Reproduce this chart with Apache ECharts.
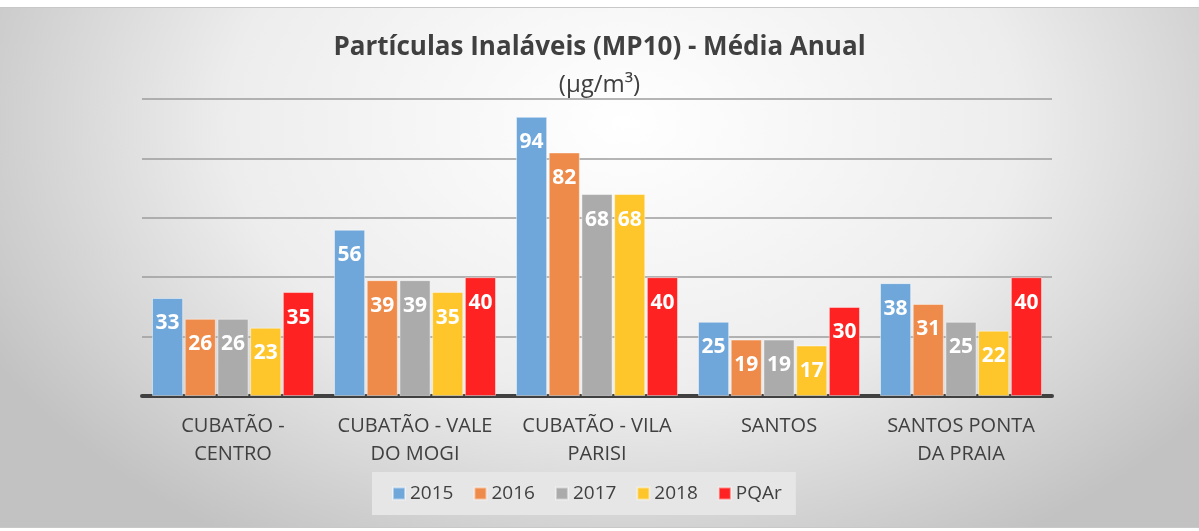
<!DOCTYPE html>
<html>
<head>
<meta charset="utf-8">
<script src="https://cdn.jsdelivr.net/npm/echarts@6/dist/echarts.min.js"></script>
<style>
  body { margin: 0; background: #ffffff; }
  #chart {
    position: absolute; left: 0; top: 7px; width: 1199px; height: 519px;
    border-top: 1px solid #c8c8c8; border-bottom: 1px solid #c8c8c8;
    background: radial-gradient(ellipse 60% 95% at 52% 22%, #ffffff 0%, #ededed 55%, #c2c2c2 100%);
  }
</style>
</head>
<body>
<div id="chart"></div>
<script>
// station names, wrapped as in the original
var stations = ['CUBATÃO -\nCENTRO', 'CUBATÃO - VALE\nDO MOGI', 'CUBATÃO - VILA\nPARISI', 'SANTOS', 'SANTOS PONTA\nDA PRAIA'];

// annual means (µg/m³)
var y2015 = [33, 56, 94, 25, 38];
var y2016 = [26, 39, 82, 19, 31];
var y2017 = [26, 39, 68, 19, 25];
var y2018 = [23, 35, 68, 17, 22];
var pqar  = [35, 40, 40, 30, 40];

var seriesNames = ['2015', '2016', '2017', '2018', 'PQAr'];
var seriesData = [y2015, y2016, y2017, y2018, pqar];
var colors = ['#6FA7DA', '#EE8B4B', '#ABABAB', '#FEC62A', '#FF2222'];

var myChart = echarts.init(document.getElementById('chart'));

var series = seriesNames.map(function (name, i) {
  return {
    name: name,
    type: 'bar',
    data: seriesData[i],
    barGap: '5%',
    barCategoryGap: '11%',
    itemStyle: {
      color: colors[i],
      borderColor: 'rgba(255,255,255,0.45)',
      borderWidth: 1
    },
    label: {
      show: true,
      position: 'insideTop',
      distance: 15,
      color: '#ffffff',
      fontFamily: 'Open Sans',
      fontWeight: 'bold',
      fontSize: 21
    }
  };
});

var option = {
  backgroundColor: 'transparent',
  animation: false,
  title: {
    text: 'Partículas Inaláveis (MP10) - Média Anual',
    subtext: '(µg/m³)',
    left: 'center',
    top: 22,
    itemGap: 12,
    textStyle: { fontFamily: 'Open Sans', fontWeight: 'bold', fontSize: 26, color: '#404040' },
    subtextStyle: { fontFamily: 'Open Sans', fontSize: 24, color: '#404040' }
  },
  legend: {
    data: seriesNames,
    bottom: 12,
    left: 372,
    itemWidth: 12,
    itemHeight: 12,
    itemGap: 20,
    icon: 'rect',
    backgroundColor: '#e6e6e6',
    padding: [12, 14, 12, 20],
    textStyle: { fontFamily: 'Open Sans', fontSize: 19, color: '#404040' }
  },
  grid: { left: 142, right: 147, top: 91, bottom: 131 },
  xAxis: {
    type: 'category',
    data: stations,
    axisLine: { lineStyle: { color: '#404040', width: 4 } },
    axisTick: { show: false },
    axisLabel: {
      color: '#404040',
      fontFamily: 'Open Sans',
      fontSize: 20,
      lineHeight: 28,
      verticalAlign: 'top',
      margin: 16,
      interval: 0
    }
  },
  yAxis: {
    type: 'value',
    min: 0,
    max: 100,
    interval: 20,
    axisLabel: { show: false },
    axisLine: { show: false },
    axisTick: { show: false },
    splitLine: { lineStyle: { color: '#9c9c9c', width: 1.5 } }
  },
  series: series
};

myChart.setOption(option);
</script>
</body>
</html>
